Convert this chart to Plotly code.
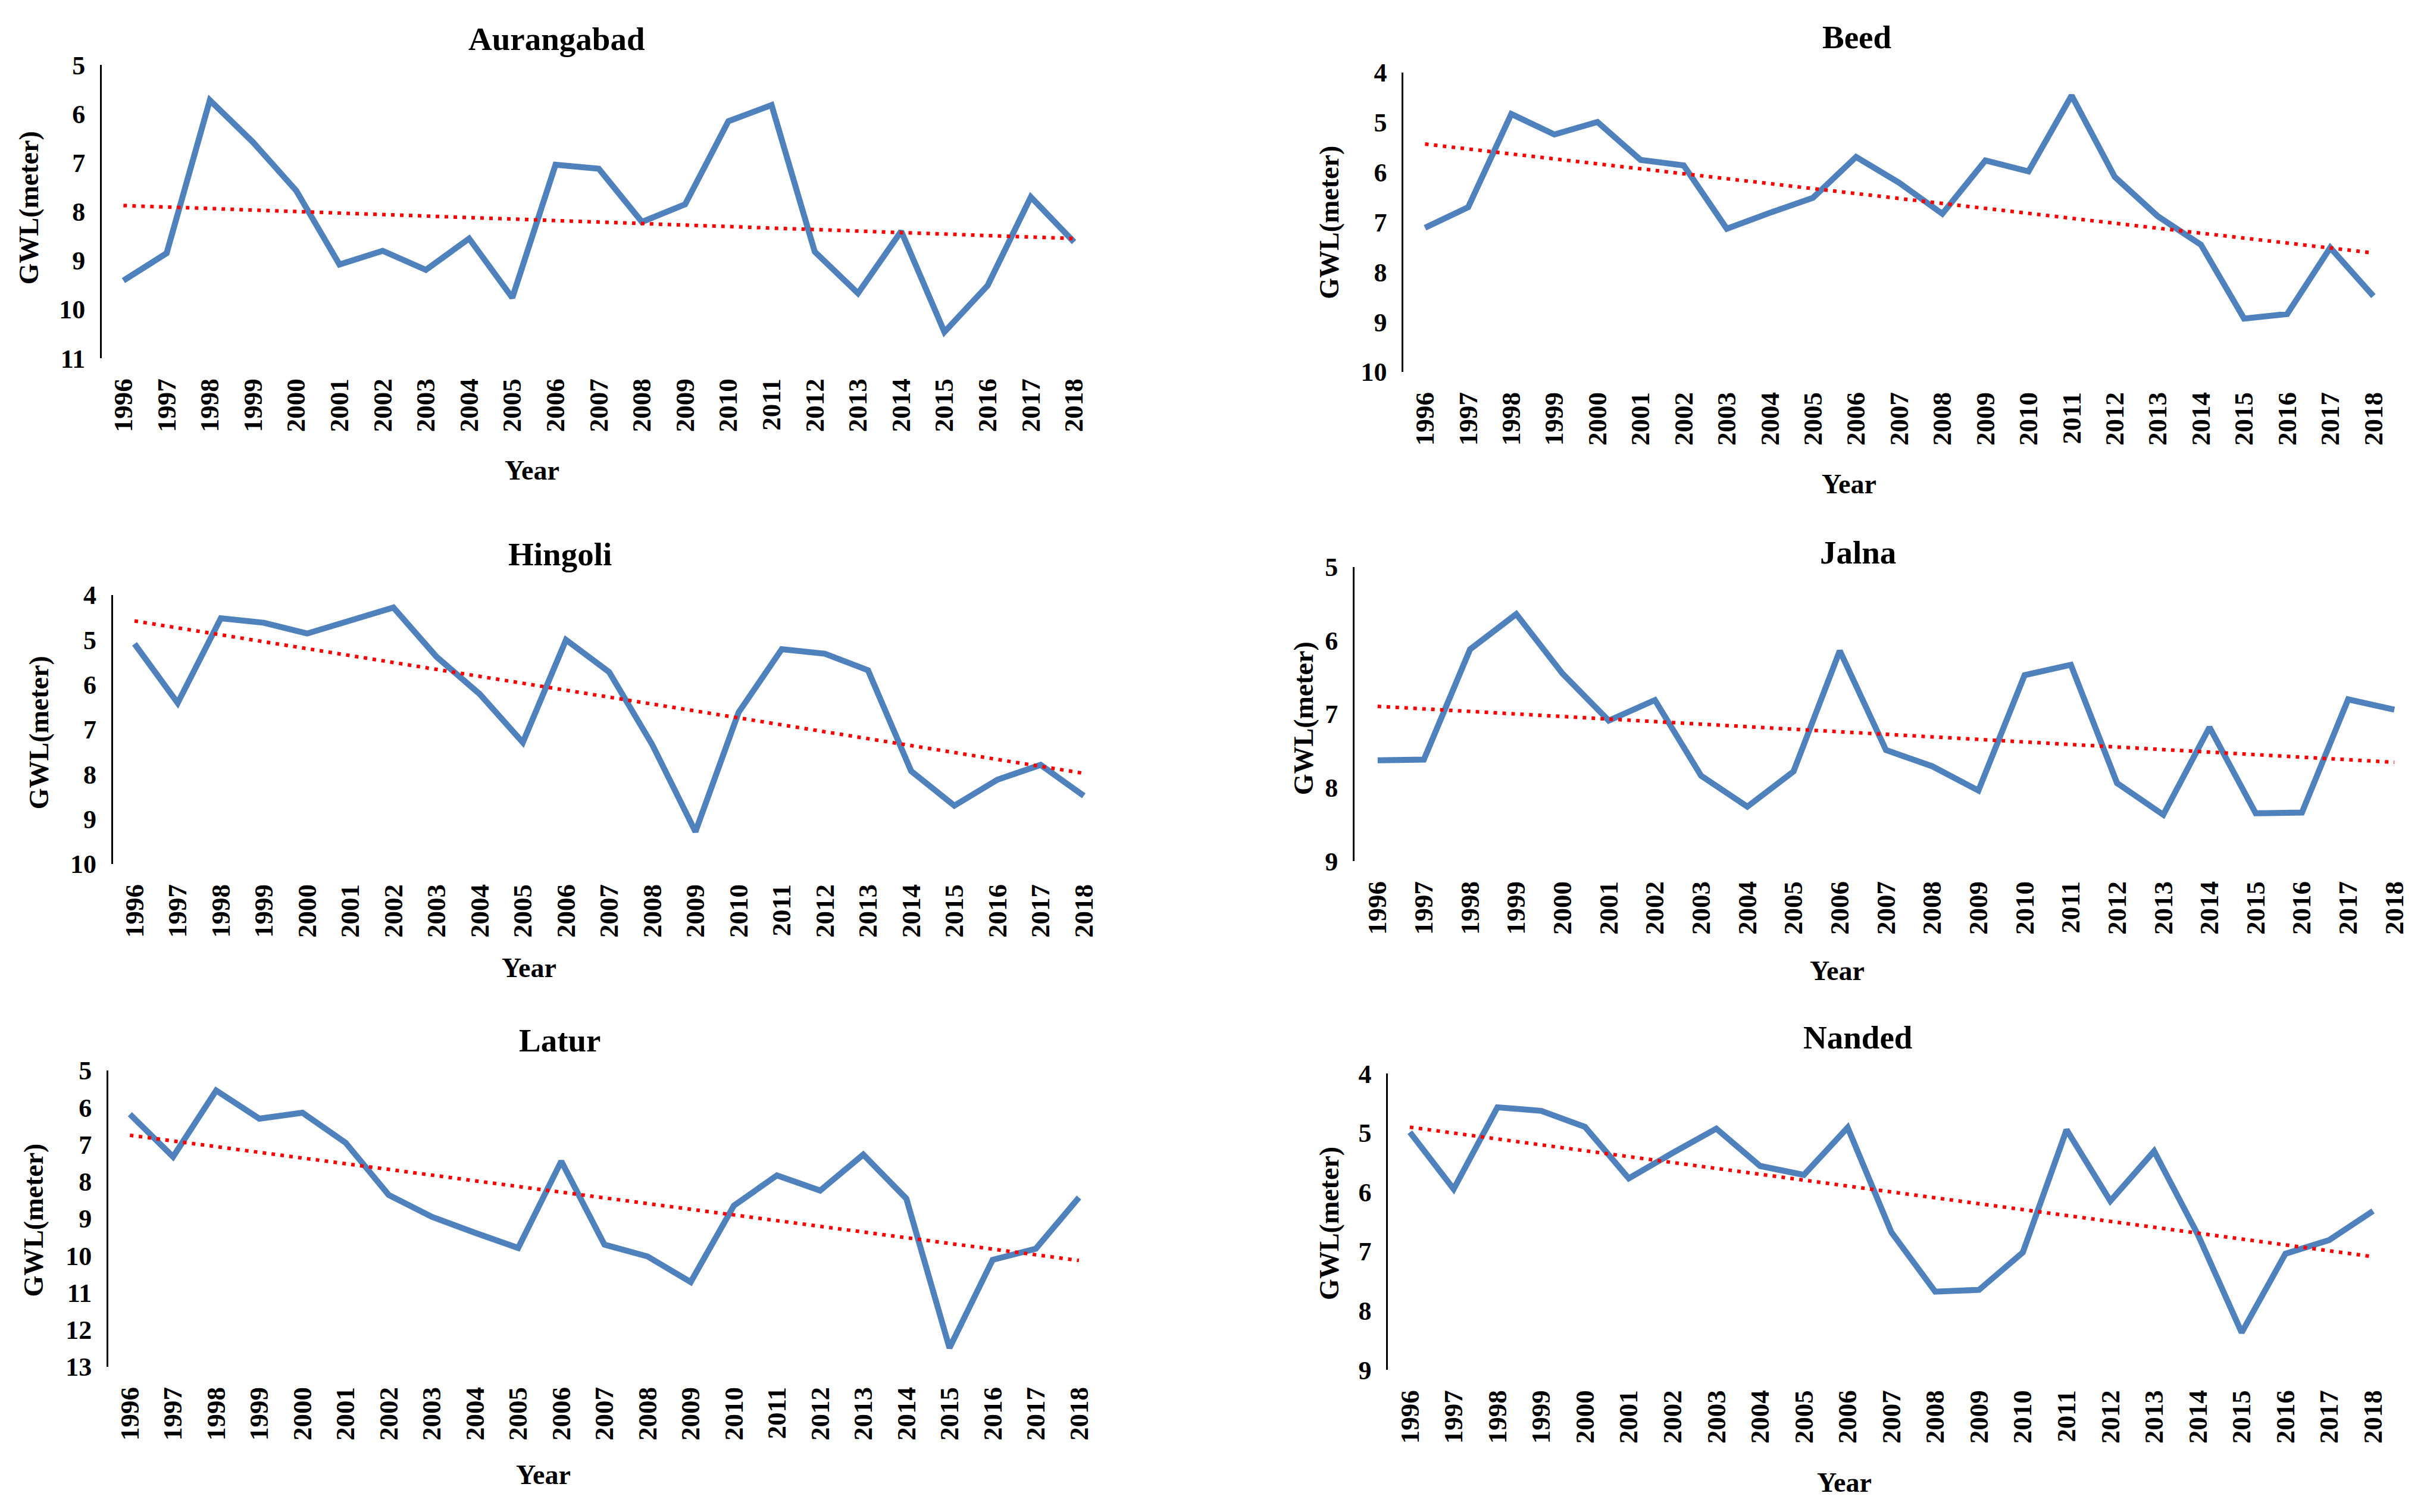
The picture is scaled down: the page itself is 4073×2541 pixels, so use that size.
import plotly.graph_objects as go
from plotly.subplots import make_subplots
import numpy as np

# 年份 (x 轴类别)
years = ['1996', '1997', '1998', '1999', '2000', '2001', '2002', '2003', '2004', '2005', '2006',
         '2007', '2008', '2009', '2010', '2011', '2012', '2013', '2014', '2015', '2016', '2017', '2018']

# 各地区地下水位 (m)
aurangabad = [9.41, 8.85, 5.72, 6.58, 7.57, 9.08, 8.80, 9.19, 8.55, 9.76, 7.04, 7.12,
              8.21, 7.85, 6.15, 5.82, 8.82, 9.67, 8.40, 10.46, 9.51, 7.70, 8.62]
beed = [7.11, 6.70, 4.83, 5.24, 4.99, 5.75, 5.86, 7.13, 6.81, 6.51, 5.69, 6.21,
        6.83, 5.76, 5.98, 4.46, 6.09, 6.88, 7.45, 8.93, 8.84, 7.51, 8.48]
hingoli = [5.09, 6.41, 4.52, 4.62, 4.86, 4.57, 4.28, 5.38, 6.21, 7.29, 5.00, 5.72,
           7.34, 9.28, 6.62, 5.21, 5.31, 5.68, 7.93, 8.70, 8.12, 7.79, 8.48]
jalna = [7.63, 7.62, 6.12, 5.64, 6.45, 7.09, 6.81, 7.84, 8.26, 7.78, 6.14, 7.49,
         7.71, 8.04, 6.47, 6.33, 7.94, 8.37, 7.18, 8.35, 8.34, 6.80, 6.94]
latur = [6.18, 7.33, 5.54, 6.30, 6.14, 6.95, 8.36, 8.95, 9.38, 9.79, 7.45, 9.70,
         10.02, 10.71, 8.65, 7.83, 8.24, 7.27, 8.46, 12.49, 10.11, 9.81, 8.43]
nanded = [4.99, 5.95, 4.57, 4.63, 4.90, 5.77, 5.34, 4.93, 5.56, 5.71, 4.91, 6.68,
          7.68, 7.65, 7.02, 4.95, 6.15, 5.31, 6.72, 8.37, 7.04, 6.81, 6.32]

districts = ['Aurangabad', 'Beed', 'Hingoli', 'Jalna', 'Latur', 'Nanded']
series = [aurangabad, beed, hingoli, jalna, latur, nanded]
y_ranges = [(5, 11), (4, 10), (4, 10), (5, 9), (5, 13), (4, 9)]

# 子图位置 (paper 坐标)
x_domains = [(0.042, 0.452), (0.579, 0.988), (0.0466, 0.456), (0.5588, 0.9973), (0.0447, 0.454), (0.5726, 0.988)]
y_domains = [(0.763, 0.957), (0.754, 0.952), (0.4286, 0.6065), (0.4305, 0.625), (0.096, 0.292), (0.094, 0.290)]
title_pos = [(0.2296, 0.9744), (0.7660, 0.9756), (0.2310, 0.6336), (0.7665, 0.6344), (0.2310, 0.3117), (0.7665, 0.3140)]
year_pos = [(0.2195, 0.689), (0.7628, 0.680), (0.2183, 0.360), (0.7579, 0.358), (0.2242, 0.0244), (0.7609, 0.0193)]
gwl_pos = [(0.0120, 0.8625), (0.5483, 0.853), (0.0160, 0.5155), (0.5380, 0.525), (0.0140, 0.193), (0.5483, 0.191)]

W, H = 4073, 2541
# 页面 body 默认 8px 边距的补偿
DX, DY = 8 / W, 8 / H

FONT = 'Liberation Serif'
BLUE = '#4F81BD'

fig = make_subplots(rows=3, cols=2)

for i, (name, vals) in enumerate(zip(districts, series)):
    row, col = i // 2 + 1, i % 2 + 1
    # 实际水位
    fig.add_trace(go.Scatter(x=years, y=vals, mode='lines', line=dict(color=BLUE, width=10),
                             showlegend=False), row=row, col=col)
    # 线性趋势线
    idx = np.arange(len(vals))
    k, b = np.polyfit(idx, vals, 1)
    fig.add_trace(go.Scatter(x=years, y=k * idx + b, mode='lines',
                             line=dict(color='#FF0000', width=6, dash='6px,9px'),
                             showlegend=False), row=row, col=col)

    lo, hi = y_ranges[i]
    x0, x1 = x_domains[i]
    y0, y1 = y_domains[i]
    fig.update_xaxes(domain=[x0 - DX, x1 - DX], type='category', range=[-0.5, 22.5],
                     automargin=False,
                     showline=False, showgrid=False, zeroline=False, ticks='',
                     tickangle=-90, ticklabelstandoff=24,
                     tickfont=dict(family=FONT, size=45, color='black', weight='bold'),
                     row=row, col=col)
    fig.update_yaxes(domain=[y0 + DY, y1 + DY], range=[hi, lo], dtick=1,
                     automargin=False,
                     showline=True, linecolor='black', linewidth=3,
                     showgrid=False, zeroline=False, ticks='', ticklabelstandoff=16,
                     tickfont=dict(family=FONT, size=44, color='black', weight='bold'),
                     row=row, col=col)

    fig.add_annotation(x=title_pos[i][0] - DX, y=title_pos[i][1] + DY, xref='paper', yref='paper',
                       xanchor='center', yanchor='middle',
                       text=name, showarrow=False,
                       font=dict(family=FONT, size=55, color='black', weight='bold'))
    fig.add_annotation(x=year_pos[i][0] - DX, y=year_pos[i][1] + DY, xref='paper', yref='paper',
                       xanchor='center', yanchor='middle',
                       text='Year', showarrow=False,
                       font=dict(family=FONT, size=46, color='black', weight='bold'))
    fig.add_annotation(x=gwl_pos[i][0] - DX, y=gwl_pos[i][1] + DY, xref='paper', yref='paper',
                       xanchor='center', yanchor='middle',
                       text='GWL(meter)', showarrow=False, textangle=-90,
                       font=dict(family=FONT, size=46, color='black', weight='bold'))

fig.update_layout(
    width=W, height=H,
    margin=dict(l=0, r=0, t=0, b=0, autoexpand=False),
    plot_bgcolor='white', paper_bgcolor='white',
    showlegend=False,
)

fig.write_html("out.html")
